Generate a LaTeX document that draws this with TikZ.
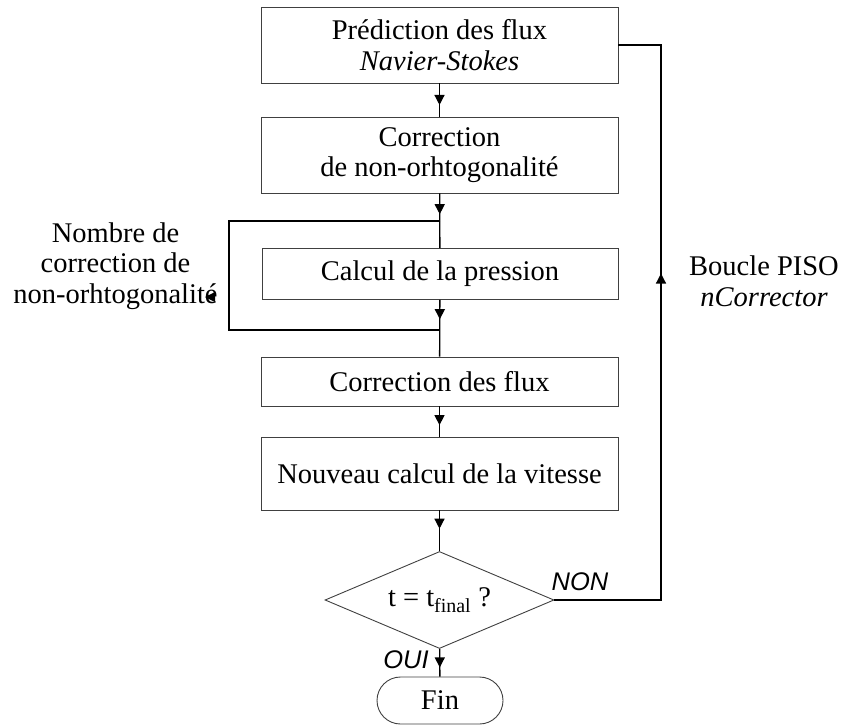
\documentclass[tikz,border=0pt]{standalone}
\usepackage{fontspec}
\setmainfont{Liberation Serif}
\newfontfamily\labelsans{Liberation Sans}
\usetikzlibrary{shapes.geometric,shapes.misc,arrows.meta,decorations.markings}
\begin{document}
\begin{tikzpicture}[x=1pt,y=-1pt,
  txt/.style={font=\fontsize{28.5}{30.5}\selectfont, align=center, inner sep=0pt},
  box/.style={txt, draw=black!75, line width=0.9pt, rectangle, minimum width=357pt},
  conn/.style={line width=1.3pt, draw=black},
  midtip/.style={decoration={markings, mark=at position #1 with {\arrow{Triangle[length=10pt,width=10pt]}}}, postaction={decorate}},
  yesno/.style={font=\labelsans\itshape\fontsize{25.5}{27}\selectfont, inner sep=0pt},
]
\useasboundingbox (0,0) rectangle (841,725);

\node[box, minimum height=76pt] (b1) at (439.5,45) {Prédiction des flux\\\itshape Navier-Stokes};
\node[box, minimum height=76pt] (b2) at (439.5,155) {Correction\\de non-orhtogonalité};
\node[box, minimum height=51pt, minimum width=356pt] (b3) at (440,274) {Calcul de la pression};
\node[box, minimum height=49pt] (b4) at (439.5,381.5) {Correction des flux};
\node[box, minimum height=73pt] (b5) at (439.5,473.5) {Nouveau calcul de la vitesse};
\node[txt, draw=black!75, line width=0.9pt, diamond, shape aspect=2.36, minimum width=229pt, minimum height=97pt] (d) at (439.5,600) {t = t\textsubscript{final} ?};
\node[txt, draw=black!75, line width=0.9pt, rounded rectangle, minimum width=126pt, minimum height=47pt] (fin) at (440,700.5) {Fin};

\node[txt] (lbl) at (115.5,266) {Nombre de\\correction de\\non-orhtogonalité};
\node[txt] (piso) at (764,281) {Boucle PISO\\\itshape nCorrector};
\node[yesno] (non) at (580,582) {NON};
\node[yesno] (oui) at (406,660) {OUI};

\coordinate (lt) at (440,221);
\coordinate (ltl) at (229,221);
\coordinate (lbl2) at (229,330);
\coordinate (lb) at (440,330);
\coordinate (rb) at (661,600);

\draw[conn, midtip=0.65] (b1) -- (b2);
\draw[conn, midtip=0.38] (b2) -- (b3);
\draw[conn, midtip=0.34] (b3) -- (b4);
\draw[conn, midtip=0.62] (b4) -- (b5);
\draw[conn, midtip=0.45] (b5) -- (d);
\draw[conn, midtip=0.67] (d) -- (fin);
\draw[conn] (lt) -- (ltl) -- (lbl2) -- (lb);
\draw[conn, midtip=0.615] (d.east) -- (rb) -- (rb |- b1.east) -- (b1.east);
\fill (205,297) -- (215,292) -- (215,302) -- cycle;
\end{tikzpicture}
\end{document}
